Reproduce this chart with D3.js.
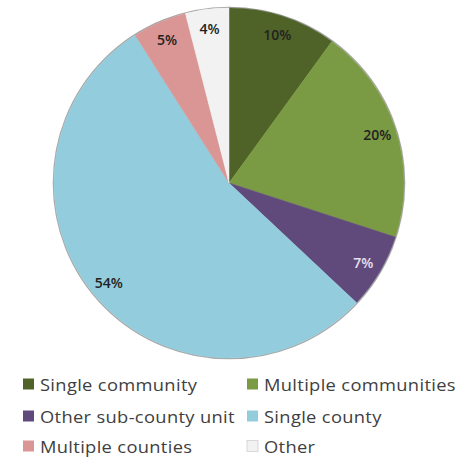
<!DOCTYPE html>
<html>
<head>
<meta charset="utf-8">
<script src="https://cdn.jsdelivr.net/npm/d3@7"></script>
<style>
  html, body { margin: 0; padding: 0; background: #ffffff; }
  svg { display: block; }
</style>
</head>
<body>
<svg id="chart" width="472" height="460"></svg>
<script>
const categories = ["Single community", "Multiple communities", "Other sub-county unit", "Single county", "Multiple counties", "Other"];
const values = [10, 20, 7, 54, 5, 4];
const labels = ["10%", "20%", "7%", "54%", "5%", "4%"];
const colors = ["#4F6228", "#7A9A43", "#604A7B", "#93CDDD", "#D99694", "#F2F2F2"];
const labelColors = ["#222222", "#222222", "#E6E0EC", "#222222", "#222222", "#222222"];

const svg = d3.select("#chart");
const cx = 229, cy = 183, R = 175, rLabel = 156;

const data = categories.map((c, i) => ({ name: c, value: values[i], label: labels[i], color: colors[i], lc: labelColors[i] }));

const pie = d3.pie().value(d => d.value).sort(null);
const arcs = pie(data);
const arc = d3.arc().innerRadius(0).outerRadius(R);
const labelArc = d3.arc().innerRadius(rLabel).outerRadius(rLabel);

const g = svg.append("g").attr("transform", `translate(${cx},${cy})`);

g.append("circle").attr("r", R + 0.6).attr("fill", "none").attr("stroke", "#a8a8a8").attr("stroke-width", 1.4);

g.selectAll("path.slice").data(arcs).enter().append("path")
  .attr("class", "slice")
  .attr("d", arc)
  .attr("fill", d => d.data.color)
  .attr("stroke", d => d.data.color)
  .attr("stroke-width", 0.5);

g.selectAll("text.lbl").data(arcs).enter().append("text")
  .attr("class", "lbl")
  .attr("transform", d => `translate(${labelArc.centroid(d)})`)
  .attr("text-anchor", "middle")
  .attr("dominant-baseline", "central")
  .attr("font-family", "'Open Sans', sans-serif")
  .attr("font-weight", 600)
  .attr("font-size", 14)
  .attr("fill", d => d.data.lc)
  .text(d => d.data.label);

// legend
const colX = [23, 247];
const rowY = [384, 416, 446];
const lg = svg.append("g");
data.forEach((d, i) => {
  const col = i % 2, row = Math.floor(i / 2);
  const x = colX[col], y = rowY[row];
  lg.append("rect").attr("x", x).attr("y", y - 5.5).attr("width", 11).attr("height", 11)
    .attr("fill", d.color)
    .attr("stroke", d.name === "Other" ? "#d0d0d0" : "none").attr("stroke-width", 0.8);
  lg.append("text")
    .attr("transform", `translate(${x + 17},${y}) scale(1.11,1)`)
    .attr("dominant-baseline", "central")
    .attr("font-family", "'Open Sans', sans-serif")
    .attr("font-size", 16.5)
    .attr("letter-spacing", 0.3)
    .attr("fill", "#404040")
    .text(d.name);
});
</script>
</body>
</html>
